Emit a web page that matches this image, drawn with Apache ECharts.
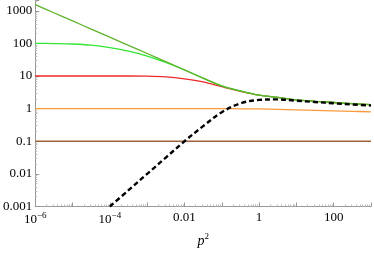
<!DOCTYPE html>
<html><head><meta charset="utf-8">
<script src="https://cdn.jsdelivr.net/npm/echarts@6/dist/echarts.min.js"></script>
<style>html,body{margin:0;padding:0;background:#fff}#c{width:374px;height:253px}</style>
</head><body><div id="c"></div>
<script>
// p^2 sample points (half decades)
const p2 = [1e-6, 3.16e-6, 1e-5, 3.16e-5, 1e-4, 3.16e-4, 1e-3, 3.16e-3, 1e-2, 3.16e-2, 0.1, 0.316, 1, 3.16, 10, 31.6, 100, 316, 1000];
const greenDark  = [1550, 870, 490, 275, 155, 87, 49, 27.5, 15.5, 8.6, 5.0, 3.5, 2.6, 2.2, 1.85, 1.68, 1.54, 1.42, 1.32];
const greenLight = [100, 99, 96, 88, 74, 58, 41, 26, 15.3, 8.6, 5.0, 3.5, 2.6, 2.2, 1.85, 1.68, 1.54, 1.42, 1.32];
const red        = [10, 10, 10, 10, 10, 10, 9.9, 9.4, 8.2, 6.6, 4.7, 3.4, 2.6, 2.2, 1.85, 1.68, 1.54, 1.42, 1.32];
const orange     = [1, 1, 1, 1, 1, 1, 1, 1, 1, 1, 1, 0.99, 0.98, 0.95, 0.92, 0.89, 0.86, 0.83, 0.8];
const brown      = [0.1, 0.1, 0.1, 0.1, 0.1, 0.1, 0.1, 0.1, 0.1, 0.1, 0.1, 0.1, 0.1, 0.1, 0.1, 0.1, 0.1, 0.1, 0.1];
const blackP2    = [1e-4, 3.16e-4, 1e-3, 3.16e-3, 1e-2, 3.16e-2, 0.1, 0.316, 1, 3.16, 10, 31.6, 100, 316, 1000];
const black      = [0.001, 0.00316, 0.01, 0.0316, 0.1, 0.29, 0.78, 1.45, 1.85, 1.92, 1.75, 1.6, 1.46, 1.34, 1.25];
const xTickLabels = {'-6': '10{s|−6}', '-4': '10{s|−4}', '-2': '0.01', '0': '1', '2': '100'};
const yTickLabels = {'-3': '0.001', '-2': '0.01', '-1': '0.1', '0': '1', '1': '10', '2': '100', '3': '1000'};

function pairs(xs, ys) { return xs.map((x, i) => [x, ys[i]]); }
function expOf(v) { return Math.round(Math.log10(v) * 1000) / 1000; }

const font = "'Liberation Serif', 'DejaVu Serif', serif";
const chart = echarts.init(document.getElementById('c'), null, {renderer: 'canvas'});
const line = (data, color, extra) => Object.assign({
  type: 'line', data: data, showSymbol: false, smooth: 0.35,
  lineStyle: {color: color, width: 1.3}, itemStyle: {color: color}, animation: false, z: 2
}, extra || {});

chart.setOption({
  animation: false,
  textStyle: {fontFamily: font},
  grid: {left: 34, right: 0, top: 0, bottom: 43, containLabel: false},
  xAxis: {
    type: 'log', min: 1e-6, max: 1000, interval: 1,
    name: '{i|p}{s|2}', nameLocation: 'middle', nameGap: 26,
    nameTextStyle: {fontFamily: font, fontSize: 13, color: '#000',
      rich: {i: {fontFamily: font, fontStyle: 'italic', fontSize: 14, color: '#000'},
             s: {fontFamily: font, fontSize: 9, color: '#000', padding: [0, 0, 8, 0]}}},
    axisLine: {lineStyle: {color: '#999', width: 1}},
    axisTick: {inside: true, length: 4, lineStyle: {color: '#999'}},
    minorTick: {show: true, splitNumber: 9, length: 2, lineStyle: {color: '#bbb'}},
    splitLine: {show: false},
    axisLabel: {
      margin: 5, color: '#000', fontFamily: font, fontSize: 13,
      formatter: v => { const k = expOf(v); return xTickLabels[String(k)] || ''; },
      rich: {s: {fontFamily: font, fontSize: 9, color: '#000', padding: [0, 0, 8, 0]}}
    }
  },
  yAxis: {
    type: 'log', min: 0.001, max: 2140, interval: 1,
    axisLine: {show: true, lineStyle: {color: '#999', width: 1}},
    axisTick: {show: true, inside: true, length: 4, lineStyle: {color: '#999'}},
    minorTick: {show: true, splitNumber: 9, length: 2, lineStyle: {color: '#bbb'}},
    splitLine: {show: false},
    axisLabel: {
      margin: 3, color: '#000', fontFamily: font, fontSize: 13,
      formatter: v => { const k = expOf(v); return yTickLabels[String(k)] || ''; }
    }
  },
  series: [
    line(pairs(p2, brown), '#a0643a'),
    line(pairs(p2, orange), '#fb9a3c'),
    line(pairs(p2, red), '#ee2a2a'),
    line(pairs(p2, greenLight), '#33e633'),
    line(pairs(p2, greenDark), '#5fb42d'),
    line(pairs(blackP2, black), '#000', {lineStyle: {color: '#000', width: 2.4, type: [5, 3]}, z: 3})
  ]
});
</script></body></html>
